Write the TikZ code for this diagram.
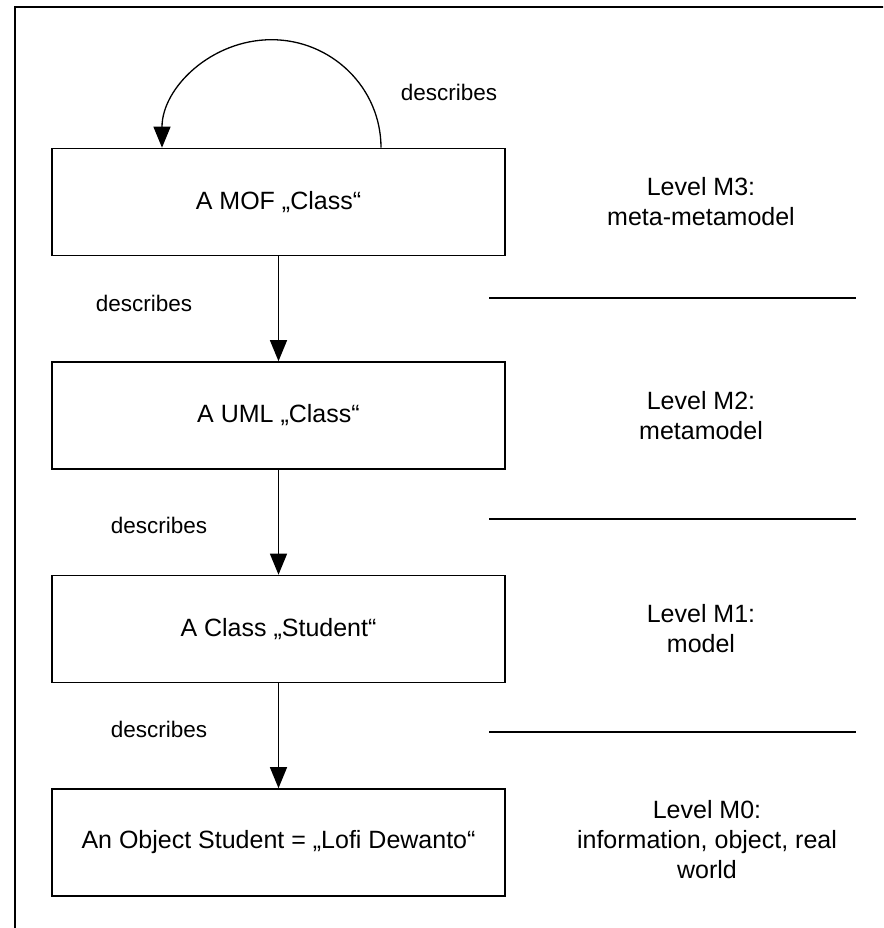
\documentclass[tikz,border=0pt]{standalone}
\usepackage{fontspec}
\setmainfont{Liberation Sans}
\usetikzlibrary{arrows.meta,calc}
\begin{document}
\begin{tikzpicture}[x=1pt,y=-1pt,
  every node/.style={font=\fontsize{25}{30}\selectfont},
  levelbox/.style={draw,line width=1.6pt,minimum width=453pt,minimum height=107pt,inner sep=0pt},
  leveltext/.style={align=center},
  sep/.style={line width=1.7pt},
  conn/.style={line width=1.3pt,-{Triangle[width=17pt,length=21pt]}},
  rel/.style={font=\fontsize{22.5}{28}\selectfont}]
\useasboundingbox (0,0) rectangle (883,928);
\clip (0,0) rectangle (883,928);
% frame
\coordinate (fbl) at (15,940);
\coordinate (ftl) at (15,7);
\coordinate (ftr) at (900,7);
\draw[line width=1.6pt] (fbl) -- (ftl) -- (ftr);
% boxes
\node[levelbox] (m3) at (278.5,202) {A MOF „Class“};
\node[levelbox] (m2) at (278.5,415.5) {A UML „Class“};
\node[levelbox] (m1) at (278.5,629) {A Class „Student“};
\node[levelbox] (m0) at (278.5,842.5) {An Object Student = „Lofi Dewanto“};
% level labels
\node[leveltext] (l3) at (701,202) {Level M3:\\meta-metamodel};
\node[leveltext] (l2) at (701,415.5) {Level M2:\\metamodel};
\node[leveltext] (l1) at (701,629) {Level M1:\\model};
\node[leveltext] (l0) at (707,840) {Level M0:\\information, object, real\\world};
% separators
\coordinate (s1a) at (489,298); \coordinate (s1b) at (856,298);
\coordinate (s2a) at (489,519); \coordinate (s2b) at (856,519);
\coordinate (s3a) at (489,732); \coordinate (s3b) at (856,732);
\draw[sep] (s1a) -- (s1b);
\draw[sep] (s2a) -- (s2b);
\draw[sep] (s3a) -- (s3b);
% arrows
\draw[conn] (m3.south) -- (m2.north);
\draw[conn] (m2.south) -- (m1.north);
\draw[conn] (m1.south) -- (m0.north);
% self loop
\coordinate (la) at ($(m3.north)+(102.5,0)$);
\coordinate (lt) at ($(m3.north)+(-7,-108)$);
\coordinate (lb) at ($(m3.north)+(-116.5,0)$);
\draw[conn] (la) .. controls ($(la)+(0,-60)$) and ($(lt)+(60,0)$) .. (lt)
  .. controls ($(lt)+(-60,0)$) and ($(lb)+(0,-60)$) .. (lb);
% describes labels
\node[rel] (d0) at (449,92) {describes};
\node[rel] (d1) at (144,303) {describes};
\node[rel] (d2) at (159,525) {describes};
\node[rel] (d3) at (159,729) {describes};
\end{tikzpicture}
\end{document}
